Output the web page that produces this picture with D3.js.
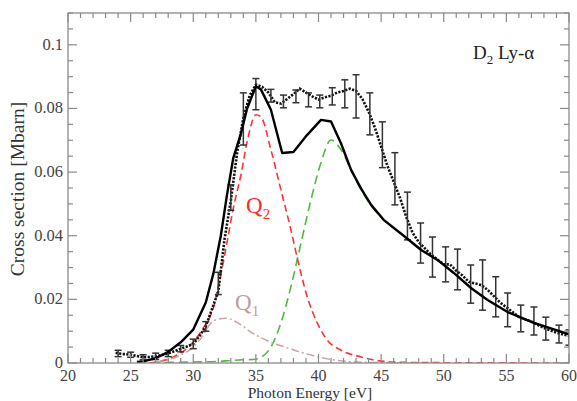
<!DOCTYPE html>
<html><head><meta charset="utf-8">
<script src="https://cdn.jsdelivr.net/npm/d3@7"></script>
<style>html,body{margin:0;padding:0;background:#fff;}svg{display:block;}</style>
</head><body>
<svg id="c" width="577" height="401"></svg>
<script>
// ---- data ----
const expE = [23.8,24.0,24.5,25.0,25.5,26.0,26.5,27.0,27.5,28.0,28.5,29.0,29.5,30.0,30.5,31.0,31.5,32.0,32.5,33.0,33.5,34.0,34.5,35.0,35.5,36.0,36.5,37.0,37.5,38.0,38.5,39.0,39.5,40.0,40.5,41.0,41.5,42.0,42.5,43.0,43.5,44.0,44.5,45.0,45.5,46.0,46.5,47.0,47.5,48.0,48.5,49.0,49.5,50.0,50.5,51.0,51.5,52.0,52.5,53.0,53.5,54.0,54.5,55.0,55.5,56.0,56.5,57.0,57.5,58.0,58.5,59.0,59.5,60.0];
const expV = [0.0032,0.003,0.0028,0.0026,0.0022,0.0018,0.0019,0.0021,0.0025,0.003,0.0037,0.0045,0.0052,0.006,0.0085,0.0115,0.017,0.0225,0.039,0.051,0.066,0.077,0.084,0.0875,0.0868,0.085,0.082,0.0815,0.083,0.0845,0.0862,0.085,0.0838,0.0828,0.0835,0.084,0.085,0.0855,0.0862,0.0855,0.083,0.079,0.074,0.068,0.062,0.057,0.052,0.046,0.041,0.038,0.036,0.034,0.0325,0.031,0.031,0.029,0.0275,0.0255,0.025,0.0245,0.023,0.021,0.019,0.0175,0.016,0.0145,0.0137,0.013,0.012,0.011,0.0103,0.0095,0.009,0.0085];

const errE = [24,25,26,27,28,29,30,31,32,33,34,35,36.2,37.2,38.2,39.2,40.1,41.1,42.1,43.0,44.1,45.1,46.1,47.1,48.15,49.1,50.15,51.1,52.15,53.1,54.15,55.1,56.15,57.2,58.15,59.2,60.0];
const errV = [0.003,0.0026,0.0018,0.0021,0.003,0.0045,0.006,0.0115,0.025,0.052,0.0767,0.0845,0.084,0.0822,0.0838,0.0827,0.0822,0.0838,0.0846,0.0838,0.0783,0.0686,0.0579,0.0462,0.0377,0.0333,0.031,0.0294,0.0248,0.0245,0.0208,0.0167,0.014,0.0132,0.0108,0.0091,0.008];
const errH = [0.001,0.0008,0.0008,0.001,0.001,0.001,0.0015,0.0015,0.0035,0.004,0.0082,0.0049,0.002,0.002,0.002,0.0022,0.002,0.0027,0.0044,0.0068,0.0066,0.0072,0.0082,0.0075,0.0063,0.0063,0.0055,0.0064,0.006,0.0079,0.0063,0.0053,0.0042,0.0044,0.0036,0.0028,0.0024];

const totE = [25.5,26,27,28,29,30,31,31.6,32.2,32.7,33.2,33.8,34.3,35.0,35.4,36.2,37.1,38.0,39.1,40.2,41.0,41.8,42.6,43.4,44.2,45.2,46.8,48.2,49.5,50.8,52.2,53.5,55.1,57.2,60.0];
const totV = [0.0003,0.0005,0.0015,0.0035,0.0065,0.0105,0.019,0.028,0.040,0.053,0.0645,0.072,0.080,0.087,0.086,0.0796,0.066,0.0663,0.0717,0.0764,0.0759,0.069,0.0607,0.0548,0.0497,0.045,0.040,0.0355,0.0324,0.0283,0.0235,0.0198,0.016,0.0126,0.009];

const q2E = [26.5,27,28,28.7,29.8,30.8,31.6,32.2,32.7,33.2,33.8,34.3,35.0,35.4,36.2,37.0,37.8,38.4,39.1,39.9,40.7,41.8,43.4,45,47,50,60];
const q2V = [0,0.0003,0.0012,0.0025,0.0057,0.011,0.0173,0.0277,0.038,0.0487,0.059,0.0695,0.078,0.0774,0.067,0.0544,0.0418,0.0314,0.0208,0.0126,0.0072,0.004,0.0019,0.0006,0.0002,0.0001,0];

const q1E = [27,28,29,30,30.8,31.4,32.0,32.6,33.3,34.0,34.6,35.5,36.4,37.5,38.5,39.4,40.7,42,44,46,48];
const q1V = [0.0003,0.001,0.0025,0.005,0.0088,0.0125,0.0138,0.0141,0.0132,0.0115,0.0097,0.0078,0.0062,0.0048,0.0035,0.0025,0.0013,0.0006,0.0002,0.0001,0];

const gE = [25.5,27,30,32,33,34,35,35.5,36.2,37.0,37.8,38.6,39.4,40.2,41.0,41.8,42.6,43.4,44.2,45.2,46.8,48.2,49.5,50.8,52.2,53.5,55.1,57.2,60.0];
const gV = [0,0.0001,0.0003,0.0005,0.0008,0.001,0.0012,0.002,0.005,0.0126,0.024,0.0377,0.0513,0.063,0.0701,0.067,0.0607,0.0544,0.0495,0.045,0.040,0.0355,0.0324,0.0283,0.0235,0.0198,0.016,0.0126,0.009];

const xTicks = [20,25,30,35,40,45,50,55,60];
const yTicks = [0,0.02,0.04,0.06,0.08,0.1];
const yTickLabels = ["0","0.02","0.04","0.06","0.08","0.1"];

// ---- drawing ----
const svg = d3.select("#c");
const L = 68, R = 569, T = 13, B = 363;
const x = d3.scaleLinear().domain([20,60]).range([L,R]);
const y = d3.scaleLinear().domain([0,0.11]).range([B,T]);
const font = "'Liberation Serif','Times New Roman',serif";
const axisCol = "#8a8a8a";

svg.append("defs").append("clipPath").attr("id","clip")
  .append("rect").attr("x",L).attr("y",T).attr("width",R-L).attr("height",B-T);

const plot = svg.append("g").attr("clip-path","url(#clip)");
const pts = (E,V) => E.map((e,i)=>[e,V[i]]);
const lineL = d3.line().x(d=>x(d[0])).y(d=>y(d[1]));
const lineM = d3.line().x(d=>x(d[0])).y(d=>y(d[1])).curve(d3.curveMonotoneX);

// components
plot.append("path").attr("d",lineM(pts(gE,gV))).attr("fill","none")
  .attr("stroke","#4cbb3c").attr("stroke-width",1.6).attr("stroke-dasharray","9,5");
plot.append("path").attr("d",lineM(pts(q2E,q2V))).attr("fill","none")
  .attr("stroke","#ff3333").attr("stroke-width",1.6).attr("stroke-dasharray","7,4");
plot.append("path").attr("d",lineM(pts(q1E,q1V))).attr("fill","none")
  .attr("stroke","#c9a3a3").attr("stroke-width",1.5).attr("stroke-dasharray","8,3,2,3");

// experiment
plot.append("path").attr("d",lineL(pts(expE,expV))).attr("fill","none")
  .attr("stroke","#111").attr("stroke-width",2.6).attr("stroke-dasharray","2.2,1.4");
const eb = plot.append("g").attr("stroke","#333").attr("stroke-width",1.5);
errE.forEach((e,i)=>{
  const cx = x(e), y1 = y(errV[i]-errH[i]), y2 = y(errV[i]+errH[i]);
  eb.append("line").attr("x1",cx).attr("x2",cx).attr("y1",y1).attr("y2",y2);
  eb.append("line").attr("x1",cx-3.5).attr("x2",cx+3.5).attr("y1",y1).attr("y2",y1);
  eb.append("line").attr("x1",cx-3.5).attr("x2",cx+3.5).attr("y1",y2).attr("y2",y2);
});

// total theory
plot.append("path").attr("d",lineL(pts(totE,totV))).attr("fill","none")
  .attr("stroke","#000").attr("stroke-width",2.4).attr("stroke-linejoin","round");

// frame
svg.append("rect").attr("x",L).attr("y",T).attr("width",R-L).attr("height",B-T)
  .attr("fill","none").attr("stroke",axisCol).attr("stroke-width",1.3);

// ticks (inward on all sides)
const tg = svg.append("g").attr("stroke",axisCol).attr("stroke-width",1.2);
for (let v=20; v<=60; v+=1){
  const major = v%5===0, len = major?9:5, px = x(v);
  tg.append("line").attr("x1",px).attr("x2",px).attr("y1",B).attr("y2",B-len);
  tg.append("line").attr("x1",px).attr("x2",px).attr("y1",T).attr("y2",T+len);
}
for (let k=0; k<=22; k++){
  const v = k*0.005, major = k%4===0, len = major?9:5, py = y(v);
  tg.append("line").attr("x1",L).attr("x2",L+len).attr("y1",py).attr("y2",py);
  tg.append("line").attr("x1",R).attr("x2",R-len).attr("y1",py).attr("y2",py);
}

// tick labels
svg.append("g").selectAll("text").data(xTicks).join("text")
  .attr("x",d=>x(d)).attr("y",381).attr("text-anchor","middle")
  .attr("font-family",font).attr("font-size",16).attr("fill","#444").text(d=>d);
svg.append("g").selectAll("text").data(yTicks).join("text")
  .attr("x",L-5).attr("y",d=>y(d)+5).attr("text-anchor","end")
  .attr("font-family",font).attr("font-size",16.5).attr("fill","#444").text((d,i)=>yTickLabels[i]);

// axis titles
svg.append("text").attr("x",310).attr("y",397.5).attr("text-anchor","middle")
  .attr("font-family",font).attr("font-size",15.5).attr("fill","#333").text("Photon Energy [eV]");
svg.append("text").attr("transform","translate(24,189) rotate(-90)").attr("text-anchor","middle")
  .attr("font-family",font).attr("font-size",19.5).attr("fill","#333").text("Cross section [Mbarn]");

// annotations
const t1 = svg.append("text").attr("x",473).attr("y",59).attr("font-family",font)
  .attr("font-size",19).attr("fill","#222");
t1.append("tspan").text("D");
t1.append("tspan").attr("font-size",13).attr("dy",5).text("2");
t1.append("tspan").attr("dy",-5).text(" Ly-α");

const q2 = svg.append("text").attr("x",246).attr("y",213).attr("font-family",font)
  .attr("font-size",23).attr("fill","#ff2a2a");
q2.append("tspan").text("Q");
q2.append("tspan").attr("font-size",15).attr("dy",6).text("2");

const q1 = svg.append("text").attr("x",235).attr("y",310).attr("font-family",font)
  .attr("font-size",23).attr("fill","#c49c9c");
q1.append("tspan").text("Q");
q1.append("tspan").attr("font-size",15).attr("dy",6).text("1");
</script>
</body></html>
